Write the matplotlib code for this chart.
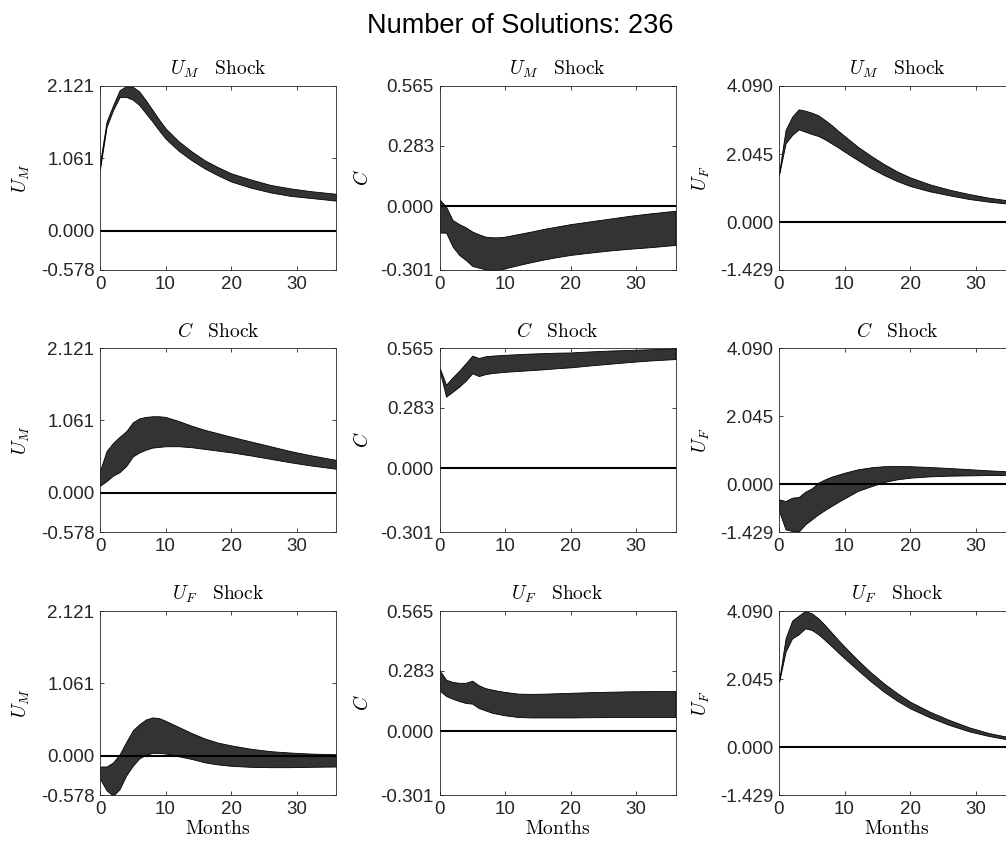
import matplotlib
matplotlib.use('Agg')
import matplotlib.pyplot as plt
import numpy as np

plt.rcParams['font.family'] = ['Liberation Sans', 'DejaVu Sans']
plt.rcParams['mathtext.fontset'] = 'cm'

months = [0, 1, 2, 3, 4, 5, 6, 7, 8, 9, 10, 12, 14, 16, 18, 20, 23, 26, 29, 32, 36]

# rows: shock (U_M, C, U_F); columns: response (U_M, C, U_F)
um_um_hi = [0.99, 1.60, 1.84, 2.06, 2.12, 2.11, 2.04, 1.91, 1.77, 1.63, 1.50, 1.31, 1.16, 1.03, 0.93, 0.84, 0.75, 0.67, 0.62, 0.58, 0.54]
um_um_lo = [0.90, 1.52, 1.77, 1.96, 1.96, 1.92, 1.84, 1.72, 1.60, 1.47, 1.35, 1.17, 1.03, 0.91, 0.81, 0.72, 0.63, 0.56, 0.51, 0.48, 0.44]
um_c_hi = [0.032, -0.003, -0.066, -0.085, -0.10, -0.12, -0.133, -0.144, -0.147, -0.147, -0.144, -0.132, -0.120, -0.107, -0.096, -0.085, -0.072, -0.059, -0.046, -0.035, -0.022]
um_c_lo = [-0.125, -0.125, -0.191, -0.23, -0.254, -0.282, -0.29, -0.298, -0.301, -0.301, -0.293, -0.278, -0.264, -0.251, -0.240, -0.23, -0.219, -0.209, -0.201, -0.194, -0.183]
um_uf_hi = [1.47, 2.77, 3.17, 3.39, 3.35, 3.29, 3.21, 3.07, 2.92, 2.75, 2.59, 2.27, 2.00, 1.75, 1.53, 1.35, 1.14, 0.98, 0.85, 0.74, 0.63]
um_uf_lo = [1.42, 2.37, 2.62, 2.79, 2.72, 2.65, 2.59, 2.49, 2.37, 2.25, 2.12, 1.87, 1.63, 1.42, 1.24, 1.09, 0.93, 0.81, 0.70, 0.62, 0.54]

c_um_hi = [0.32, 0.61, 0.73, 0.82, 0.90, 1.03, 1.09, 1.11, 1.12, 1.12, 1.11, 1.05, 0.98, 0.92, 0.87, 0.82, 0.75, 0.68, 0.61, 0.55, 0.48]
c_um_lo = [0.10, 0.17, 0.25, 0.30, 0.39, 0.53, 0.59, 0.63, 0.66, 0.67, 0.68, 0.68, 0.665, 0.64, 0.615, 0.59, 0.545, 0.495, 0.445, 0.40, 0.35]
c_c_hi = [0.474, 0.392, 0.427, 0.458, 0.493, 0.529, 0.518, 0.526, 0.529, 0.531, 0.533, 0.536, 0.539, 0.541, 0.543, 0.544, 0.549, 0.553, 0.556, 0.559, 0.563]
c_c_lo = [0.461, 0.336, 0.359, 0.383, 0.411, 0.446, 0.433, 0.442, 0.447, 0.450, 0.453, 0.457, 0.461, 0.465, 0.470, 0.474, 0.483, 0.491, 0.499, 0.506, 0.513]
c_uf_hi = [-0.45, -0.50, -0.40, -0.38, -0.22, -0.12, 0.05, 0.15, 0.23, 0.29, 0.35, 0.45, 0.51, 0.545, 0.55, 0.545, 0.52, 0.49, 0.455, 0.42, 0.38]
c_uf_lo = [-0.80, -1.35, -1.40, -1.42, -1.20, -1.05, -0.90, -0.77, -0.65, -0.53, -0.42, -0.20, -0.06, 0.07, 0.15, 0.20, 0.24, 0.26, 0.27, 0.28, 0.28]

uf_um_hi = [-0.16, -0.16, -0.10, 0.02, 0.20, 0.37, 0.46, 0.53, 0.56, 0.55, 0.51, 0.42, 0.33, 0.25, 0.19, 0.15, 0.10, 0.065, 0.045, 0.03, 0.02]
uf_um_lo = [-0.34, -0.51, -0.59, -0.49, -0.29, -0.15, -0.04, 0.01, 0.04, 0.04, 0.03, -0.01, -0.05, -0.10, -0.13, -0.15, -0.165, -0.17, -0.17, -0.165, -0.16]
uf_c_hi = [0.286, 0.242, 0.231, 0.227, 0.227, 0.237, 0.215, 0.202, 0.195, 0.189, 0.184, 0.176, 0.175, 0.176, 0.178, 0.180, 0.183, 0.185, 0.187, 0.188, 0.188]
uf_c_lo = [0.191, 0.165, 0.152, 0.141, 0.132, 0.129, 0.108, 0.097, 0.086, 0.080, 0.074, 0.066, 0.064, 0.064, 0.064, 0.064, 0.065, 0.066, 0.066, 0.066, 0.066]
uf_uf_hi = [1.99, 3.27, 3.80, 3.95, 4.09, 4.02, 3.87, 3.67, 3.45, 3.23, 3.02, 2.62, 2.25, 1.92, 1.63, 1.37, 1.07, 0.82, 0.60, 0.43, 0.27]
uf_uf_lo = [1.95, 2.87, 3.27, 3.39, 3.57, 3.52, 3.39, 3.22, 3.04, 2.85, 2.67, 2.32, 1.98, 1.67, 1.40, 1.17, 0.90, 0.67, 0.48, 0.34, 0.20]

bands = [
    [(um_um_lo, um_um_hi), (um_c_lo, um_c_hi), (um_uf_lo, um_uf_hi)],
    [(c_um_lo, c_um_hi), (c_c_lo, c_c_hi), (c_uf_lo, c_uf_hi)],
    [(uf_um_lo, uf_um_hi), (uf_c_lo, uf_c_hi), (uf_uf_lo, uf_uf_hi)],
]

shock_names = ['U_M', 'C', 'U_F']
var_names = [r'$U_M$', r'$C$', r'$U_F$']
yticks = [[-0.578, 0.0, 1.061, 2.121], [-0.301, 0.0, 0.283, 0.565], [-1.429, 0.0, 2.045, 4.090]]
ytick_labels = [['-0.578', '0.000', '1.061', '2.121'],
                ['-0.301', '0.000', '0.283', '0.565'],
                ['-1.429', '0.000', '2.045', '4.090']]
xticks = [0, 10, 20, 30]

W, H = 1006, 847
fig = plt.figure(figsize=(W / 100, H / 100), dpi=100)

lefts = [100, 439.5, 779]
tops = [86, 348, 611]
aw, ah = 236, 184
axcol = '#262626'

for i in range(3):
    for j in range(3):
        ax = fig.add_axes([lefts[j] / W, 1 - (tops[i] + ah) / H, aw / W, ah / H])
        lo, hi = bands[i][j]
        ax.fill_between(months, lo, hi, facecolor='#333333', edgecolor='black', linewidth=0.6)
        ax.axhline(0, color='black', linewidth=1.5)
        ax.set_xlim(0, 36)
        ax.set_ylim(yticks[j][0], yticks[j][-1])
        ax.set_xticks(xticks)
        ax.set_yticks(yticks[j])
        ax.set_yticklabels(ytick_labels[j])
        ax.tick_params(direction='in', top=True, right=True, length=3, width=0.6,
                       color=axcol, labelcolor=axcol, labelsize=13.5, pad=4)
        for s in ax.spines.values():
            s.set_color(axcol)
            s.set_linewidth(0.6)
        ax.set_title('$' + shock_names[i] + r'\quad\mathrm{Shock}$', fontsize=14, pad=8)
        ax.set_ylabel(var_names[j], fontsize=14, labelpad=6)
        if i == 2:
            ax.set_xlabel(r'$\mathrm{Months}$', fontsize=14, labelpad=2)

fig.text(520 / W, 1 - 26 / H, 'Number of Solutions: 236', ha='center', va='center', fontsize=19.5)

fig.savefig('out.png', dpi=100)
